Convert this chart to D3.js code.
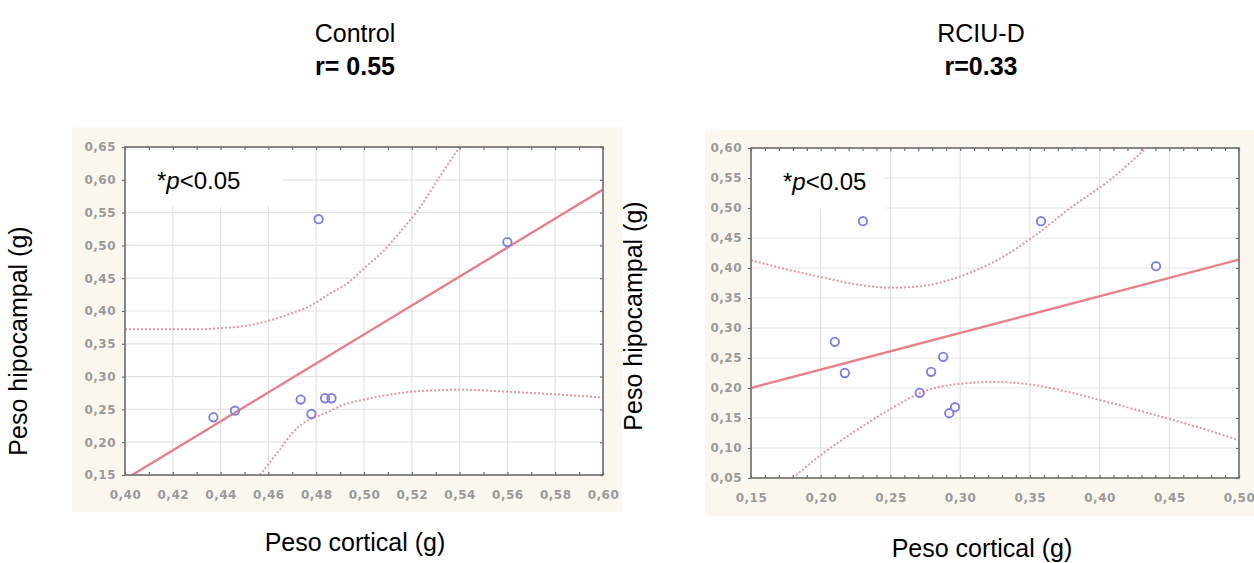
<!DOCTYPE html>
<html>
<head>
<meta charset="utf-8">
<script src="https://cdn.jsdelivr.net/npm/d3@7"></script>
<style>
  body { margin: 0; background: #fff; }
  svg { display: block; }
  .tick text { font-family: "DejaVu Sans", sans-serif; font-size: 12px; font-weight: bold; fill: #9a9a9a; letter-spacing: 0.5px; }
</style>
</head>
<body>
<div id="wrapper"></div>
<script>
// Control panel: cortical vs hippocampal weight
const ctrlX = [0.437, 0.446, 0.481, 0.4735, 0.478, 0.4837, 0.4864, 0.560]
const ctrlY = [0.238, 0.248, 0.540, 0.265, 0.243, 0.267, 0.267, 0.505]
const ctrlFit = [[0.40, 0.1434], [0.60, 0.585]]
const ctrlUpper = [[0.40, 0.372], [0.43, 0.372], [0.44, 0.374], [0.45, 0.377], [0.46, 0.385], [0.47, 0.397],
  [0.476, 0.405], [0.485, 0.425], [0.494, 0.445], [0.50, 0.465], [0.508, 0.491], [0.515, 0.52],
  [0.522, 0.551], [0.533, 0.612], [0.54, 0.65]]
const ctrlLower = [[0.4565, 0.15], [0.465, 0.19], [0.47, 0.214], [0.475, 0.23], [0.485, 0.246], [0.49, 0.255],
  [0.50, 0.265], [0.51, 0.272], [0.52, 0.277], [0.53, 0.279], [0.54, 0.28], [0.55, 0.279], [0.56, 0.277],
  [0.58, 0.273], [0.60, 0.268]]
const ctrlXTicks = [0.40, 0.42, 0.44, 0.46, 0.48, 0.50, 0.52, 0.54, 0.56, 0.58, 0.60]
const ctrlYTicks = [0.15, 0.20, 0.25, 0.30, 0.35, 0.40, 0.45, 0.50, 0.55, 0.60, 0.65]

// RCIU-D panel
const rciuX = [0.2303, 0.358, 0.4405, 0.2101, 0.2173, 0.271, 0.2792, 0.2878, 0.2922, 0.2963]
const rciuY = [0.478, 0.478, 0.403, 0.277, 0.225, 0.192, 0.227, 0.252, 0.158, 0.168]
const rciuFit = [[0.15, 0.200], [0.50, 0.414]]
const rciuUpper = [[0.15, 0.413], [0.175, 0.398], [0.20, 0.385], [0.23, 0.371], [0.25, 0.367], [0.276, 0.371],
  [0.30, 0.386], [0.328, 0.415], [0.353, 0.453], [0.379, 0.50], [0.407, 0.546], [0.4335, 0.60]]
const rciuLower = [[0.18, 0.05], [0.20, 0.088], [0.2326, 0.14], [0.25, 0.165], [0.276, 0.196], [0.30, 0.207],
  [0.325, 0.21], [0.35, 0.206], [0.38, 0.192], [0.405, 0.177], [0.44, 0.155], [0.47, 0.135], [0.50, 0.113]]
const rciuXTicks = [0.15, 0.20, 0.25, 0.30, 0.35, 0.40, 0.45, 0.50]
const rciuYTicks = [0.05, 0.10, 0.15, 0.20, 0.25, 0.30, 0.35, 0.40, 0.45, 0.50, 0.55, 0.60]

const panels = [
  {
    id: "ctrl", title: "Control", stat: "r= 0.55",
    xs: ctrlX, ys: ctrlY, fit: ctrlFit, upper: ctrlUpper, lower: ctrlLower,
    xTicks: ctrlXTicks, yTicks: ctrlYTicks, xMinor: 0.01,
    box: { x: 125, y: 147, w: 478, h: 328 },
    bg: { x: 72, y: 127, w: 550, h: 385 },
    titleX: 355, yLabelX: 27, yLabelY: 341, xLabelX: 355, xLabelY: 551,
    pBox: { w: 157, h: 58 }
  },
  {
    id: "rciu", title: "RCIU-D", stat: "r=0.33",
    xs: rciuX, ys: rciuY, fit: rciuFit, upper: rciuUpper, lower: rciuLower,
    xTicks: rciuXTicks, yTicks: rciuYTicks, xMinor: 0.01,
    box: { x: 751, y: 148, w: 488, h: 330 },
    bg: { x: 705, y: 130, w: 549, h: 386 },
    titleX: 981, yLabelX: 642, yLabelY: 316, xLabelX: 982, xLabelY: 557,
    pBox: { w: 132, h: 60 }
  }
]

const svg = d3.select("#wrapper").append("svg").attr("width", 1254).attr("height", 563)
const fmt = d => d3.format(".2f")(d).replace(".", ",")
const font = "Liberation Sans, Arial, sans-serif"

function drawPanel(p) {
  const b = p.box
  const xScale = d3.scaleLinear().domain(d3.extent(p.xTicks)).range([b.x, b.x + b.w])
  const yScale = d3.scaleLinear().domain(d3.extent(p.yTicks)).range([b.y + b.h, b.y])

  // beige photo background
  svg.append("rect").attr("x", p.bg.x).attr("y", p.bg.y).attr("width", p.bg.w).attr("height", p.bg.h)
    .attr("fill", "#fcf7ee")
  svg.append("rect").attr("x", b.x).attr("y", b.y).attr("width", b.w).attr("height", b.h).attr("fill", "#fff")

  // grid
  const grid = svg.append("g").attr("stroke", "#e4e4e4").attr("stroke-width", 1.2)
  grid.selectAll(".gx").data(p.xTicks).join("line")
    .attr("x1", d => xScale(d)).attr("x2", d => xScale(d)).attr("y1", b.y).attr("y2", b.y + b.h)
  grid.selectAll(".gy").data(p.yTicks).join("line")
    .attr("x1", b.x).attr("x2", b.x + b.w).attr("y1", d => yScale(d)).attr("y2", d => yScale(d))

  // white patch behind the p-value note
  svg.append("rect").attr("x", b.x + 1).attr("y", b.y + 1).attr("width", p.pBox.w).attr("height", p.pBox.h)
    .attr("fill", "#fff")

  const clipId = "clip-" + p.id
  svg.append("clipPath").attr("id", clipId).append("rect")
    .attr("x", b.x).attr("y", b.y).attr("width", b.w).attr("height", b.h)
  const plot = svg.append("g").attr("clip-path", `url(#${clipId})`)

  const line = d3.line().x(d => xScale(d[0])).y(d => yScale(d[1])).curve(d3.curveMonotoneX)

  plot.append("path").datum(p.upper).attr("d", line).attr("fill", "none")
    .attr("stroke", "#e696a0").attr("stroke-width", 2).attr("stroke-dasharray", "2 2")
  plot.append("path").datum(p.lower).attr("d", line).attr("fill", "none")
    .attr("stroke", "#e696a0").attr("stroke-width", 2).attr("stroke-dasharray", "2 2")
  plot.append("path").datum(p.fit).attr("d", d3.line().x(d => xScale(d[0])).y(d => yScale(d[1])))
    .attr("fill", "none").attr("stroke", "#e8808a").attr("stroke-width", 2.4)

  plot.selectAll("circle").data(p.xs).join("circle")
    .attr("cx", d => xScale(d)).attr("cy", (d, i) => yScale(p.ys[i])).attr("r", 4.2)
    .attr("fill", "none").attr("stroke", "#7f7fe6").attr("stroke-width", 1.9)

  // frame
  svg.append("rect").attr("x", b.x).attr("y", b.y).attr("width", b.w).attr("height", b.h)
    .attr("fill", "none").attr("stroke", "#6e6e6e").attr("stroke-width", 1.6)

  // minor ticks along the frame
  const [x0, x1] = xScale.domain()
  const minor = d3.range(Math.round((x1 - x0) / p.xMinor) + 1).map(i => x0 + i * p.xMinor)
  const bottomMinor = d3.axisBottom(xScale).tickValues(minor).tickSize(-3).tickFormat("")
  const topMinor = d3.axisTop(xScale).tickValues(minor).tickSize(-3).tickFormat("")
  const leftMinor = d3.axisLeft(yScale).tickValues(p.yTicks).tickSize(3).tickFormat("")
  const rightMinor = d3.axisRight(yScale).tickValues(p.yTicks).tickSize(-3).tickFormat("")
  ;[
    [bottomMinor, `translate(0,${b.y + b.h})`],
    [topMinor, `translate(0,${b.y})`],
    [leftMinor, `translate(${b.x},0)`],
    [rightMinor, `translate(${b.x + b.w},0)`]
  ].forEach(([ax, tr]) => {
    const g = svg.append("g").attr("transform", tr).call(ax)
    g.select(".domain").remove()
    g.selectAll("line").attr("stroke", "#6e6e6e").attr("stroke-width", 1.2)
  })

  // labelled axes
  const xAxis = svg.append("g").attr("transform", `translate(0,${b.y + b.h})`)
    .call(d3.axisBottom(xScale).tickValues(p.xTicks).tickSize(0).tickPadding(15).tickFormat(fmt))
  xAxis.select(".domain").remove()
  const yAxis = svg.append("g").attr("transform", `translate(${b.x},0)`)
    .call(d3.axisLeft(yScale).tickValues(p.yTicks).tickSize(0).tickPadding(9).tickFormat(fmt))
  yAxis.select(".domain").remove()

  // p-value note
  const note = svg.append("text").attr("x", b.x + 32).attr("y", b.y + 42)
    .style("font-family", font).style("font-size", "24px").attr("fill", "#000")
  note.append("tspan").text("*")
  note.append("tspan").style("font-style", "italic").text("p")
  note.append("tspan").text("<0.05")

  // titles
  svg.append("text").attr("x", p.titleX).attr("y", 42).attr("text-anchor", "middle")
    .style("font-family", font).style("font-size", "25px").text(p.title)
  svg.append("text").attr("x", p.titleX).attr("y", 75).attr("text-anchor", "middle")
    .style("font-family", font).style("font-size", "25px").style("font-weight", "bold").text(p.stat)
  svg.append("text").attr("x", p.xLabelX).attr("y", p.xLabelY).attr("text-anchor", "middle")
    .style("font-family", font).style("font-size", "25px").text("Peso cortical (g)")
  svg.append("text").attr("transform", `translate(${p.yLabelX},${p.yLabelY}) rotate(-90)`)
    .attr("text-anchor", "middle")
    .style("font-family", font).style("font-size", "25px").text("Peso hipocampal (g)")
}

panels.forEach(drawPanel)
</script>
</body>
</html>
